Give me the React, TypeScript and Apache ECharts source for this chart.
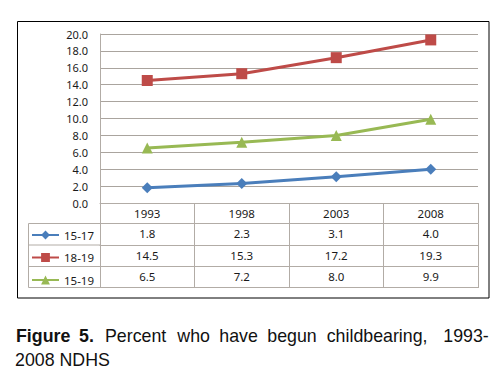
import React, { useEffect, useRef } from 'react';
import * as echarts from 'echarts';

// ---- data ----
const categories = ['1993', '1998', '2003', '2008'];
const ages1517 = [1.8, 2.3, 3.1, 4.0];
const ages1819 = [14.5, 15.3, 17.2, 19.3];
const ages1519 = [6.5, 7.2, 8.0, 9.9];
const seriesNames = ['15-17', '18-19', '15-19'];
const captionLine1 = ['Figure', '5.', 'Percent', 'who', 'have', 'begun', 'childbearing,', '1993-'];
const captionLine2 = '2008 NDHS';

// ---- layout / style ----
const COLORS = ['#4a7ebb', '#be4b48', '#98b954'];
const SYMBOLS = ['diamond', 'rect', 'triangle'];
const FONT = '"Noto Sans", sans-serif';
const CAPTION_FONT = '"Liberation Sans", Arial, sans-serif';
const GRID_LINE = '#aaa49e';
const TABLE_LINE = '#b2aca6';
const TEXT = '#1a1a1a';
const ROW_OFFSETS = [0, 20.5, 42, 63.5, 84.5];
const CAPTION_X = [16, 79, 105, 177.3, 219.3, 267.3, 326.7, 443.3];
const CAPTION_SIZE = 17.8;

const fmt = (v: number) => v.toFixed(1);

export default function App() {
  const ref = useRef<HTMLDivElement>(null);

  useEffect(() => {
    if (!ref.current) return;
    const chart = echarts.init(ref.current, undefined, { renderer: 'svg' });
    const rowLabels: (string[] | null)[] = [
      categories,
      ages1517.map(fmt),
      ages1819.map(fmt),
      ages1519.map(fmt),
      null,
    ];
    const seriesData = [ages1517, ages1819, ages1519];

    const graphic: any[] = [
      {
        type: 'rect',
        shape: { x: 17.5, y: 21.5, width: 471.5, height: 276.5 },
        style: { fill: 'none', stroke: '#000', lineWidth: 1 },
        silent: true,
      },
    ];
    // legend column of the data table
    [1, 2, 3, 4].forEach((i) => {
      const y = 203 + ROW_OFFSETS[i];
      graphic.push({
        type: 'line',
        shape: { x1: 28.5, y1: y, x2: 100, y2: y },
        style: { stroke: TABLE_LINE, lineWidth: 1 },
        silent: true,
      });
    });
    graphic.push({
      type: 'line',
      shape: { x1: 28.5, y1: 203 + ROW_OFFSETS[1], x2: 28.5, y2: 203 + ROW_OFFSETS[4] },
      style: { stroke: TABLE_LINE, lineWidth: 1 },
      silent: true,
    });
    // caption
    captionLine1.forEach((w, i) => {
      graphic.push({
        type: 'text',
        x: CAPTION_X[i],
        y: 335.8,
        style: {
          text: w,
          fill: '#111',
          font: `${i < 2 ? 'bold ' : ''}${CAPTION_SIZE}px ${CAPTION_FONT}`,
          verticalAlign: 'middle',
          align: 'left',
        },
        silent: true,
      });
    });
    graphic.push({
      type: 'text',
      x: 15,
      y: 359.8,
      style: {
        text: captionLine2,
        fill: '#111',
        font: `${CAPTION_SIZE}px ${CAPTION_FONT}`,
        verticalAlign: 'middle',
        align: 'left',
      },
      silent: true,
    });

    chart.setOption({
      animation: false,
      backgroundColor: '#fff',
      grid: { left: 100, right: 26, top: 34, bottom: 175, containLabel: false },
      legend: {
        orient: 'vertical',
        left: 31,
        top: 229,
        itemWidth: 27,
        itemHeight: 11,
        itemGap: 10.5,
        padding: 0,
        data: seriesNames,
        textStyle: { fontSize: 11.5, fontFamily: FONT, color: TEXT, lineHeight: 11 },
        selectedMode: false,
      },
      xAxis: ROW_OFFSETS.map((off, i) => ({
        type: 'category',
        data: categories,
        position: 'bottom',
        offset: off,
        boundaryGap: true,
        axisLine: { show: true, lineStyle: { color: TABLE_LINE, width: 1 } },
        axisTick: {
          show: i < 4,
          length: i === 0 ? 20.5 : 21.5,
          interval: 0,
          lineStyle: { color: TABLE_LINE, width: 1 },
        },
        axisLabel: {
          show: i < 4,
          interval: 0,
          margin: 4,
          color: TEXT,
          fontSize: 11.5,
          fontFamily: FONT,
          formatter: (_v: string, idx: number) => (rowLabels[i] ? rowLabels[i]![idx] : ''),
        },
        splitLine: { show: false },
      })),
      yAxis: {
        type: 'value',
        min: 0,
        max: 20,
        interval: 2,
        axisLine: { show: true, lineStyle: { color: TABLE_LINE, width: 1 } },
        axisTick: { show: false },
        axisLabel: {
          margin: 12,
          color: TEXT,
          fontSize: 11,
          fontFamily: FONT,
          formatter: (v: number) => fmt(v),
        },
        splitLine: { show: true, lineStyle: { color: GRID_LINE, width: 1 } },
      },
      series: seriesNames.map((name, k) => ({
        name,
        type: 'line',
        xAxisIndex: 0,
        yAxisIndex: 0,
        data: seriesData[k],
        symbol: SYMBOLS[k],
        symbolSize: 11,
        lineStyle: { width: 3, color: COLORS[k] },
        itemStyle: { color: COLORS[k] },
        z: 3,
      })),
      graphic,
    });

    return () => chart.dispose();
  }, []);

  return (
    <div
      ref={ref}
      style={{ position: 'absolute', left: 0, top: 0, width: 504, height: 378 }}
    />
  );
}
